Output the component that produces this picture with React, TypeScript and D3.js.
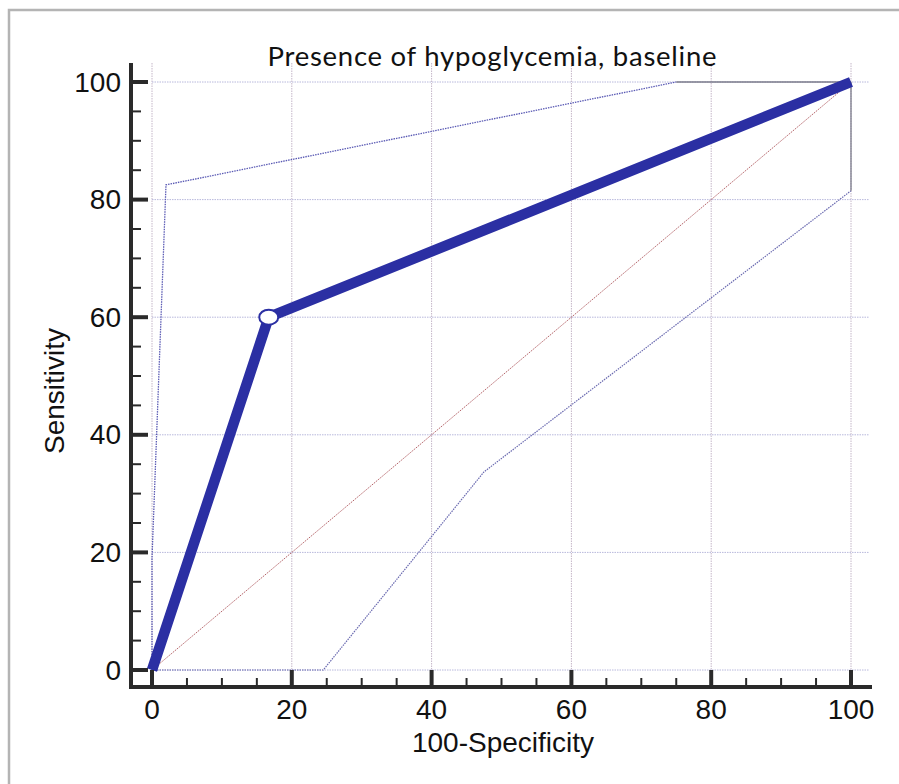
import React from "react";
import { scaleLinear, line, range } from "d3";

type Pt = [number, number];

// chart data (100-specificity, sensitivity)
const rocCurve: Pt[] = [
  [0, 0],
  [16.7, 60],
  [100, 100],
];
const cutPoint: Pt = [16.7, 60];
const upperCI: Pt[] = [
  [0, 0],
  [0, 19],
  [2, 82.5],
  [75, 100],
];
const upperClose: Pt[] = [
  [75, 100],
  [100, 100],
];
const lowerCI: Pt[] = [
  [0, 0],
  [24.5, 0],
  [47.5, 33.7],
  [100, 81.5],
];
const lowerClose: Pt[] = [
  [100, 81.5],
  [100, 100],
];
const diagonal: Pt[] = [
  [0, 0],
  [100, 100],
];
const majorTicks = [0, 20, 40, 60, 80, 100];
const minorTicks = range(0, 101, 5).filter((d) => d % 20 !== 0);

const title = "Presence of hypoglycemia, baseline";
const xLabel = "100-Specificity";
const yLabel = "Sensitivity";

const W = 899;
const H = 784;

export default function App() {
  const x = scaleLinear().domain([0, 100]).range([152, 851]);
  const y = scaleLinear().domain([0, 100]).range([670, 82]);
  const path = line<Pt>()
    .x((d) => x(d[0]))
    .y((d) => y(d[1]));

  const axisX = 131; // y axis position
  const axisY = 687; // x axis position
  const dark = "#2a2a2a";
  const blue = "#2b2fa3";
  const labelFont = "'Liberation Sans', Arial, sans-serif";

  return (
    <div style={{ position: "absolute", left: 0, top: 0 }}>
      <svg width={W} height={H} style={{ display: "block" }}>
        <rect x={0} y={0} width={W} height={H} fill="#fff" />
        <rect x={9} y={10} width={1000} height={1000} fill="none" stroke="#b4b4b4" strokeWidth={2.5} />

        {/* grid */}
        {majorTicks.map((t) => (
          <line
            key={"gx" + t}
            x1={x(t)}
            x2={x(t)}
            y1={63}
            y2={y(0)}
            stroke="#c4b6c8"
            strokeWidth={1}
            strokeDasharray="1.5,1"
          />
        ))}
        {majorTicks.map((t) => (
          <line
            key={"gy" + t}
            x1={x(0)}
            x2={869}
            y1={y(t)}
            y2={y(t)}
            stroke="#b8b8dc"
            strokeWidth={1}
            strokeDasharray="1.5,1"
          />
        ))}

        {/* reference diagonal */}
        <path d={path(diagonal) || ""} fill="none" stroke="#b5656a" strokeWidth={1} strokeDasharray="1.5,1" />

        {/* confidence bounds */}
        <path d={path(upperCI) || ""} fill="none" stroke="#5a5ab4" strokeWidth={1.3} strokeDasharray="1.5,1" />
        <path d={path(lowerCI) || ""} fill="none" stroke="#6a6ab0" strokeWidth={1.2} strokeDasharray="1.5,1" />
        <path d={path(upperClose) || ""} fill="none" stroke="#7a7a8a" strokeWidth={1.3} />
        <path d={path(lowerClose) || ""} fill="none" stroke="#7a7a8a" strokeWidth={1.3} />

        {/* ROC curve */}
        <path
          d={path(rocCurve) || ""}
          fill="none"
          stroke={blue}
          strokeWidth={10.5}
          strokeLinejoin="round"
        />
        <ellipse
          cx={x(cutPoint[0])}
          cy={y(cutPoint[1])}
          rx={9.5}
          ry={7.5}
          fill="#fff"
          stroke={blue}
          strokeWidth={2}
        />

        {/* axes */}
        <line x1={axisX} x2={axisX} y1={63} y2={axisY + 2} stroke={dark} strokeWidth={4} />
        <line x1={axisX - 2} x2={872} y1={axisY} y2={axisY} stroke={dark} strokeWidth={4} />
        {majorTicks.map((t) => (
          <g key={"my" + t}>
            <line x1={axisX} x2={148} y1={y(t)} y2={y(t)} stroke={dark} strokeWidth={4} />
            <text
              x={121}
              y={y(t)}
              textAnchor="end"
              dominantBaseline="central"
              fontFamily={labelFont}
              fontSize={28}
              fill="#111"
            >
              {t}
            </text>
          </g>
        ))}
        {minorTicks.map((t) => (
          <line key={"ny" + t} x1={axisX} x2={141} y1={y(t)} y2={y(t)} stroke={dark} strokeWidth={2} />
        ))}
        {majorTicks.map((t) => (
          <g key={"mx" + t}>
            <line x1={x(t)} x2={x(t)} y1={axisY} y2={670} stroke={dark} strokeWidth={4} />
            <text x={x(t)} y={719} textAnchor="middle" fontFamily={labelFont} fontSize={28} fill="#111">
              {t}
            </text>
          </g>
        ))}
        {minorTicks.map((t) => (
          <line key={"nx" + t} x1={x(t)} x2={x(t)} y1={axisY} y2={678} stroke={dark} strokeWidth={2} />
        ))}

        {/* labels */}
        <text
          x={492}
          y={66}
          textAnchor="middle"
          fontFamily="Lato, 'Open Sans', sans-serif"
          fontSize={27.5}
          textLength={449}
          lengthAdjust="spacing"
          fill="#111"
        >
          {title}
        </text>
        <text x={503} y={752} textAnchor="middle" fontFamily={labelFont} fontSize={28} fill="#111">
          {xLabel}
        </text>
        <text
          transform="translate(64,391) rotate(-90)"
          textAnchor="middle"
          fontFamily={labelFont}
          fontSize={28}
          fill="#111"
        >
          {yLabel}
        </text>
      </svg>
    </div>
  );
}
